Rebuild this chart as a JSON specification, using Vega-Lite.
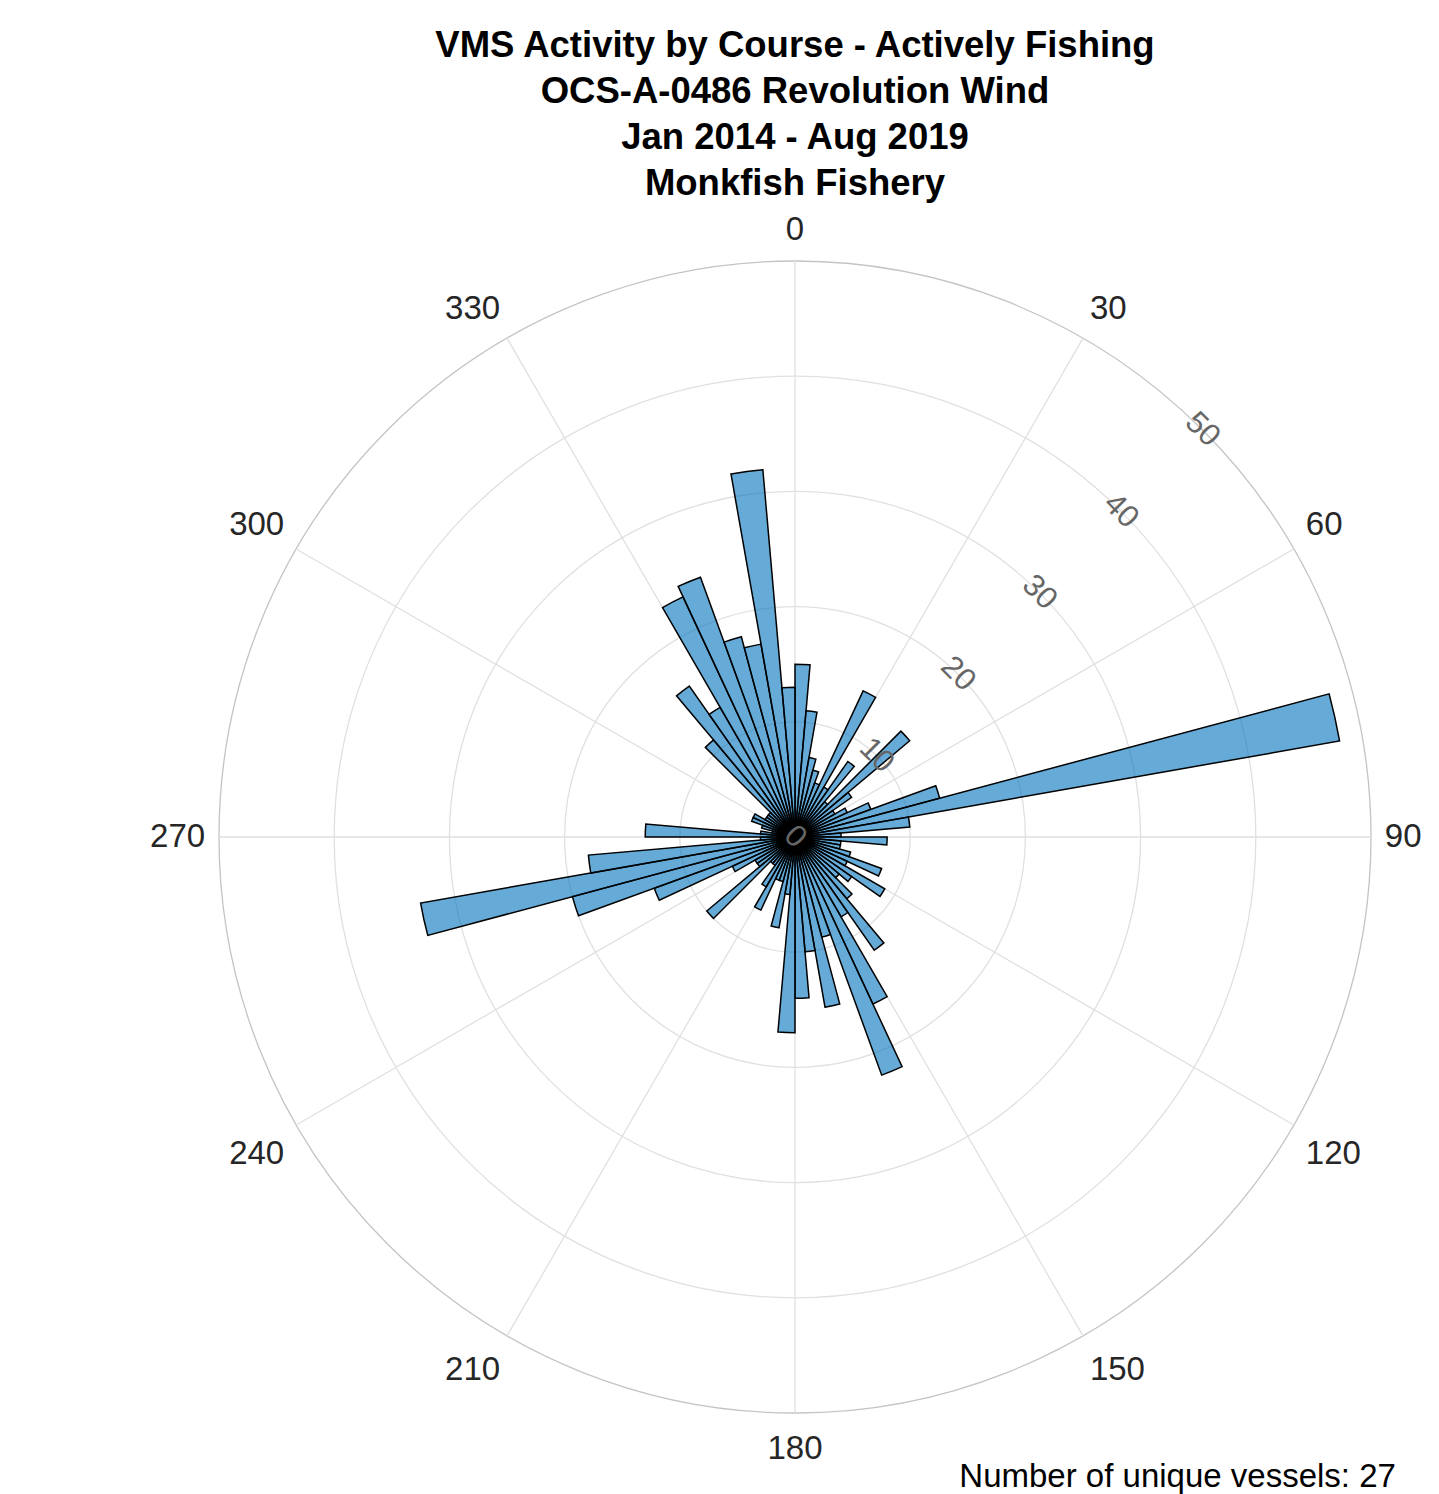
{
  "$schema": "https://vega.github.io/schema/vega-lite/v6.json",
  "width": 1190,
  "height": 1190,
  "autosize": {"type": "none"},
  "padding": {"left": 200, "top": 242, "right": 49, "bottom": 62},
  "background": "white",
  "config": {"view": {"stroke": null}, "font": "Liberation Sans"},
  "title": {
    "text": ["VMS Activity by Course - Actively Fishing", "OCS-A-0486 Revolution Wind", "Jan 2014 - Aug 2019", "Monkfish Fishery"],
    "fontSize": 36.5,
    "fontWeight": "bold",
    "font": "Liberation Sans",
    "lineHeight": 46,
    "color": "#000000",
    "anchor": "middle",
    "frame": "group",
    "offset": 12
  },
  "datasets": {
    "bins": [
      {"start": 0, "end": 5, "count": 15}, {"start": 5, "end": 10, "count": 11}, {"start": 10, "end": 15, "count": 7},
      {"start": 15, "end": 20, "count": 6}, {"start": 20, "end": 25, "count": 5}, {"start": 25, "end": 30, "count": 14},
      {"start": 30, "end": 35, "count": 5}, {"start": 35, "end": 40, "count": 8}, {"start": 40, "end": 45, "count": 4},
      {"start": 45, "end": 50, "count": 13}, {"start": 50, "end": 55, "count": 6}, {"start": 55, "end": 60, "count": 4},
      {"start": 60, "end": 65, "count": 5}, {"start": 65, "end": 70, "count": 7}, {"start": 70, "end": 75, "count": 13},
      {"start": 75, "end": 80, "count": 48}, {"start": 80, "end": 85, "count": 10}, {"start": 85, "end": 90, "count": 4},
      {"start": 90, "end": 95, "count": 8}, {"start": 95, "end": 100, "count": 4}, {"start": 100, "end": 105, "count": 4},
      {"start": 105, "end": 110, "count": 5}, {"start": 110, "end": 115, "count": 8}, {"start": 115, "end": 120, "count": 5},
      {"start": 120, "end": 125, "count": 9}, {"start": 125, "end": 130, "count": 6}, {"start": 130, "end": 135, "count": 5},
      {"start": 135, "end": 140, "count": 7}, {"start": 140, "end": 145, "count": 12}, {"start": 145, "end": 150, "count": 8},
      {"start": 150, "end": 155, "count": 16}, {"start": 155, "end": 160, "count": 22}, {"start": 160, "end": 165, "count": 9},
      {"start": 165, "end": 170, "count": 15}, {"start": 170, "end": 175, "count": 10}, {"start": 175, "end": 180, "count": 14},
      {"start": 180, "end": 185, "count": 17}, {"start": 185, "end": 190, "count": 5}, {"start": 190, "end": 195, "count": 8},
      {"start": 195, "end": 200, "count": 4}, {"start": 200, "end": 205, "count": 4}, {"start": 205, "end": 210, "count": 7},
      {"start": 210, "end": 215, "count": 5}, {"start": 215, "end": 220, "count": 3}, {"start": 220, "end": 225, "count": 3},
      {"start": 225, "end": 230, "count": 10}, {"start": 230, "end": 235, "count": 4}, {"start": 235, "end": 240, "count": 4},
      {"start": 240, "end": 245, "count": 6}, {"start": 245, "end": 250, "count": 13}, {"start": 250, "end": 255, "count": 20},
      {"start": 255, "end": 260, "count": 33}, {"start": 260, "end": 265, "count": 18}, {"start": 265, "end": 270, "count": 3},
      {"start": 270, "end": 275, "count": 13}, {"start": 275, "end": 280, "count": 3}, {"start": 280, "end": 285, "count": 2},
      {"start": 285, "end": 290, "count": 3}, {"start": 290, "end": 295, "count": 4}, {"start": 295, "end": 300, "count": 4},
      {"start": 300, "end": 305, "count": 3}, {"start": 305, "end": 310, "count": 3}, {"start": 310, "end": 315, "count": 3},
      {"start": 315, "end": 320, "count": 11}, {"start": 320, "end": 325, "count": 16}, {"start": 325, "end": 330, "count": 13},
      {"start": 330, "end": 335, "count": 23}, {"start": 335, "end": 340, "count": 24}, {"start": 340, "end": 345, "count": 18},
      {"start": 345, "end": 350, "count": 17}, {"start": 350, "end": 355, "count": 32}, {"start": 355, "end": 360, "count": 13}
    ],
    "rings": [{"r": 10}, {"r": 20}, {"r": 30}, {"r": 40}, {"r": 50}],
    "rticks": [{"r": 0}, {"r": 10}, {"r": 20}, {"r": 30}, {"r": 40}, {"r": 50}],
    "angles": [
      {"a": 0}, {"a": 30}, {"a": 60}, {"a": 90}, {"a": 120}, {"a": 150},
      {"a": 180}, {"a": 210}, {"a": 240}, {"a": 270}, {"a": 300}, {"a": 330}
    ],
    "note": [{"text": "Number of unique vessels: 27"}]
  },
  "layer": [
    {
      "data": {"name": "rings"},
      "mark": {"type": "arc", "filled": false, "strokeWidth": 1.3},
      "encoding": {
        "theta": {"datum": 0, "type": "quantitative", "stack": null, "scale": {"type": "linear", "domain": [0, 360], "range": [0, 6.283185307179586]}},
        "theta2": {"datum": 360},
        "radius": {"field": "r", "type": "quantitative", "stack": null, "scale": {"type": "linear", "domain": [0, 50], "range": [0, 576], "zero": true, "nice": false}},
        "stroke": {"condition": {"test": "datum.r == 50", "value": "#c4c4c4"}, "value": "#e0e0e0"}
      }
    },
    {
      "data": {"name": "angles"},
      "mark": {"type": "arc", "filled": false, "stroke": "#e0e0e0", "strokeWidth": 1.3},
      "encoding": {
        "theta": {"field": "a", "type": "quantitative", "stack": null},
        "theta2": {"field": "a"},
        "radius": {"datum": 50, "type": "quantitative", "stack": null}
      }
    },
    {
      "data": {"name": "bins"},
      "mark": {"type": "arc", "fill": "#0072BD", "fillOpacity": 0.6, "stroke": "#000000", "strokeWidth": 1.5},
      "encoding": {
        "theta": {"field": "start", "type": "quantitative", "stack": null},
        "theta2": {"field": "end"},
        "radius": {"field": "count", "type": "quantitative", "stack": null}
      }
    },
    {
      "data": {"name": "angles"},
      "mark": {
        "type": "text",
        "fontSize": 33,
        "color": "#262626",
        "font": "Liberation Sans",
        "align": {"expr": "datum.a == 0 || datum.a == 180 ? 'center' : (datum.a < 180 ? 'left' : 'right')"},
        "baseline": {"expr": "datum.a == 90 || datum.a == 270 ? 'middle' : ((datum.a < 90 || datum.a > 270) ? 'bottom' : 'top')"},
        "dy": {"expr": "datum.a > 90 && datum.a < 270 ? 6 : 0"}
      },
      "encoding": {
        "theta": {"field": "a", "type": "quantitative", "stack": null},
        "radius": {"datum": 51.2, "type": "quantitative", "stack": null},
        "text": {"field": "a", "type": "quantitative"}
      }
    },
    {
      "data": {"name": "rticks"},
      "mark": {"type": "text", "fontSize": 31, "color": "#666666", "angle": 45, "font": "Liberation Sans"},
      "encoding": {
        "theta": {"datum": 45, "type": "quantitative", "stack": null},
        "radius": {"field": "r", "type": "quantitative", "stack": null},
        "text": {"field": "r", "type": "quantitative"}
      }
    },
    {
      "data": {"name": "note"},
      "mark": {"type": "text", "fontSize": 33, "color": "#000000", "align": "right", "font": "Liberation Sans"},
      "encoding": {
        "theta": {"datum": 136.8, "type": "quantitative", "stack": null},
        "radius": {"datum": 76.2, "type": "quantitative", "stack": null},
        "text": {"field": "text", "type": "nominal"}
      }
    }
  ]
}
